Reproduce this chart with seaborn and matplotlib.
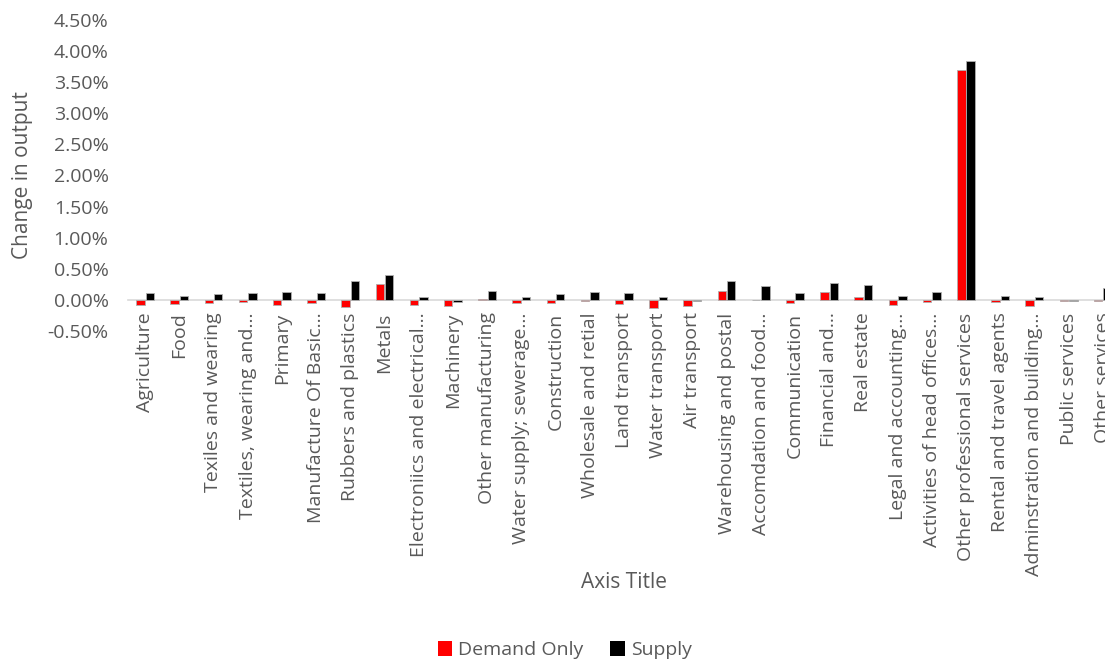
import matplotlib
matplotlib.use("Agg")
import matplotlib.pyplot as plt
from matplotlib.patches import Patch
from matplotlib.ticker import FuncFormatter, MultipleLocator
import numpy as np
import pandas as pd
import seaborn as sns

sectors = [
    "Agriculture", "Food", "Texiles and wearing", "Textiles, wearing and…",
    "Primary", "Manufacture Of Basic…", "Rubbers and plastics", "Metals",
    "Electroniics and electrical…", "Machinery", "Other manufacturing",
    "Water supply; sewerage…", "Construction", "Wholesale and retial",
    "Land transport", "Water transport", "Air transport",
    "Warehousing and postal", "Accomdation and food…", "Communication",
    "Financial and…", "Real estate", "Legal and accounting…",
    "Activities of head offices…", "Other professional services",
    "Rental and travel agents", "Adminstration and building…",
    "Public services", "Other services",
]

# change in output, percent
demand_only = [
    -0.08, -0.07, -0.05, -0.04, -0.08, -0.05, -0.11, 0.25,
    -0.08, -0.10, 0.01, -0.05, -0.05, -0.01, -0.06, -0.13,
    -0.10, 0.15, 0.00, -0.05, 0.12, 0.05, -0.08, -0.03,
    3.69, -0.04, -0.09, -0.01, -0.01,
]
supply = [
    0.11, 0.06, 0.09, 0.11, 0.13, 0.11, 0.31, 0.40,
    0.04, -0.03, 0.15, 0.05, 0.09, 0.12, 0.11, 0.05,
    -0.01, 0.31, 0.22, 0.11, 0.27, 0.24, 0.06, 0.12,
    3.84, 0.06, 0.04, -0.01, 0.19,
]

series_names = ["Demand Only", "Supply"]
series_colors = {"Demand Only": "#FF0000", "Supply": "#000000"}

df = pd.DataFrame({
    "sector": sectors * 2,
    "scenario": [series_names[0]] * len(sectors) + [series_names[1]] * len(sectors),
    "value": demand_only + supply,
})

text_color = "#595959"
sns.set_theme(style="white")
plt.rcParams["font.family"] = ["Open Sans", "DejaVu Sans"]

fig = plt.figure(figsize=(11.05, 6.59), dpi=100)
ax = fig.add_axes([0.1158, 0.4977, 0.8977, 0.4720])

sns.barplot(
    data=df, x="sector", y="value", hue="scenario",
    order=sectors, hue_order=series_names, palette=series_colors,
    width=0.55, gap=0.1, saturation=1, legend=False, ax=ax,
    edgecolor="#b0b0b0", linewidth=0.6,
)

ax.set_ylim(-0.5, 4.5)
ax.set_xlim(-0.5, len(sectors) - 0.5)
ax.yaxis.set_major_locator(MultipleLocator(0.5))
ax.yaxis.set_major_formatter(FuncFormatter(lambda v, _: f"{v:.2f}%"))

for side in ["top", "right", "left"]:
    ax.spines[side].set_visible(False)
ax.spines["bottom"].set_position(("data", 0))
ax.spines["bottom"].set_color("#d9d9d9")
ax.spines["bottom"].set_linewidth(1.2)
ax.spines["bottom"].set_zorder(0)

ax.tick_params(axis="y", length=0, pad=14, labelsize=14, labelcolor=text_color)
ax.tick_params(axis="x", length=0, pad=9, labelsize=14, labelcolor=text_color)
ax.set_xticks(range(len(sectors)))
ax.set_xticklabels(sectors, rotation=90, ha="center", va="top")

ax.set_ylabel("Change in output", fontsize=15, color=text_color)
ax.yaxis.set_label_coords(-0.096, 0.5)
ax.set_xlabel("Axis Title", fontsize=15, color=text_color)
ax.xaxis.set_label_coords(0.5, -0.775)

handles = [Patch(facecolor=series_colors[n], edgecolor="none", label=n) for n in series_names]
fig.legend(
    handles=handles, loc="lower center", bbox_to_anchor=(0.511, -0.027), ncol=2,
    frameon=False, fontsize=14, labelcolor=text_color, handlelength=0.75,
    handleheight=0.75, handletextpad=0.3, columnspacing=1.4,
)

fig.savefig("out.png", dpi=100)
